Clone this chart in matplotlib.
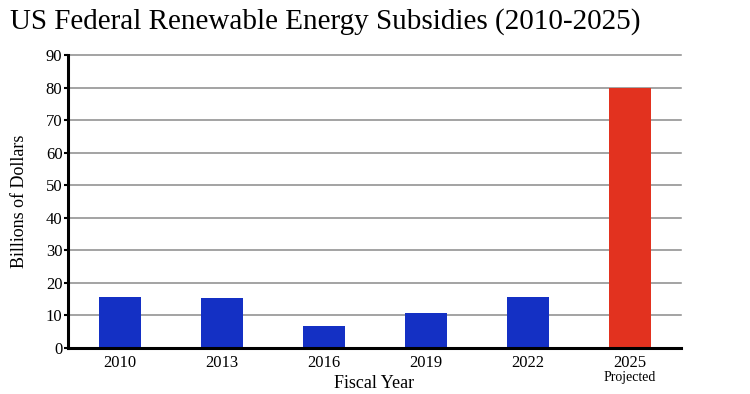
import matplotlib.pyplot as plt
import matplotlib.transforms as mtransforms

# Subsidy values (billions of dollars)
years = ['2010', '2013', '2016', '2019', '2022', '2025']
subsidies = [15.6, 15.3, 6.7, 10.7, 15.6, 80.0]
bar_colors = ['#1430C4', '#1430C4', '#1430C4', '#1430C4', '#1430C4', '#E2321F']
y_ticks = [0, 10, 20, 30, 40, 50, 60, 70, 80, 90]

plt.rcParams['font.family'] = ['Liberation Serif', 'DejaVu Serif']

fig = plt.figure(figsize=(7.5, 3.94), dpi=100)
ax = fig.add_axes([0.0907, 0.1168, 0.8173, 0.7432])

x = list(range(len(years)))
ax.bar(x, subsidies, width=0.41, color=bar_colors, zorder=3)

ax.set_xlim(-0.51, 5.5)
ax.set_ylim(0, 90)
ax.set_yticks(y_ticks)
ax.set_xticks(x)
ax.set_xticklabels(years, fontsize=12)
ax.tick_params(axis='y', labelsize=12, length=3, width=1.5, pad=1, color='black')
ax.tick_params(axis='x', length=0, pad=5)

ax.yaxis.grid(True, color='#8a8a8a', linewidth=1.1, zorder=1)
for gl in ax.get_ygridlines():
    gl.set_clip_on(False)
ax.set_axisbelow(True)

for side in ['top', 'right']:
    ax.spines[side].set_visible(False)
ax.spines['left'].set_linewidth(2.2)
ax.spines['bottom'].set_linewidth(2.2)
ax.spines['left'].set_zorder(4)
ax.spines['bottom'].set_zorder(4)

ax.set_ylabel('Billions of Dollars', fontsize=13)
ax.yaxis.set_label_coords(-0.066, 0.5)
ax.set_xlabel('Fiscal Year', fontsize=13, labelpad=3)

trans = mtransforms.blended_transform_factory(ax.transData, ax.transAxes)
ax.text(5, -0.08, 'Projected', transform=trans, ha='center', va='top', fontsize=10)

fig.text(0.433, 0.945, 'US Federal Renewable Energy Subsidies (2010-2025)',
         ha='center', va='center', fontsize=21)

fig.savefig('out.png', dpi=100)
